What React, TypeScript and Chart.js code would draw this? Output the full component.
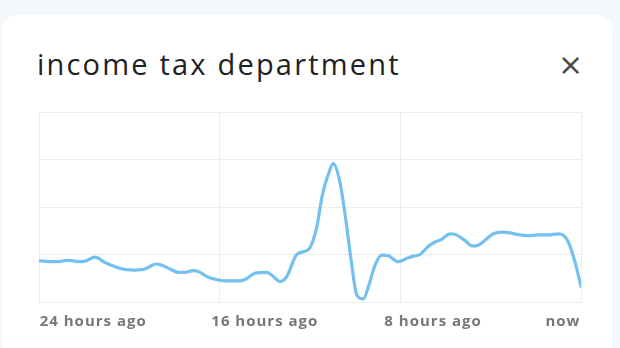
import React, { useEffect, useRef } from "react";
import { Chart, registerables } from "chart.js";

Chart.register(...registerables);

const title = "income tax department";

// hours since the start of the 24-hour window
const hours = [
  0, 0.56, 0.85, 1.23, 1.45, 1.74, 2.01, 2.48, 2.92, 3.37, 3.88, 4.25, 4.55, 4.84, 5.17, 5.43,
  5.8, 6.17, 6.46, 6.83, 7.05, 7.5, 7.94, 8.24, 8.9, 9.12, 9.56, 10.08, 10.3, 10.67, 10.97,
  11.41, 11.7, 12.0, 12.3, 12.54, 12.81, 13.03, 13.33, 13.59, 13.85, 14.07, 14.36, 14.61,
  14.88, 15.17, 15.47, 15.91, 16.35, 16.65, 16.87, 17.24, 17.54, 17.83, 18.2, 18.42, 18.86,
  19.19, 19.45, 19.75, 20.12, 20.49, 20.86, 21.15, 21.67, 22.11, 22.55, 23.0, 23.22, 23.44,
  23.73, 24,
];

// search interest (0-100)
const interest = [
  21.7, 21.2, 21.2, 21.9, 21.8, 21.2, 21.4, 23.6, 20.8, 18.6, 17.0, 16.8, 17.0, 18.2, 20.0, 19.4,
  17.4, 15.6, 15.6, 16.5, 16.1, 13.0, 11.6, 11.1, 11.1, 11.8, 15.1, 15.6, 14.2, 10.8, 13.4,
  25.0, 26.4, 28.6, 39.4, 55.9, 67.2, 72.8, 62.8, 42.9, 19.4, 3.8, 1.6, 9.0,
  19.4, 24.7, 24.3, 21.2, 23.3, 24.3, 25.0, 29.3, 31.6, 33.0, 35.9, 35.6, 32.4,
  29.5, 29.9, 32.5, 35.9, 36.8, 36.4, 35.6, 34.9, 35.3, 35.3, 35.9, 35.1, 31.6,
  21.2, 8.2,
];

const gridHours = [0, 8, 16, 24];
const tickLabels = ["24 hours ago", "16 hours ago", "8 hours ago", "now"];
const tickLabelHours = [2.4, 10.0, 17.45, 23.2];
const yTicks = [0, 25, 50, 75, 100];

const spacingPlugin = {
  id: "labelSpacing",
  beforeDraw(chart: any) {
    (chart.ctx as any).letterSpacing = "1px";
  },
  afterDraw(chart: any) {
    (chart.ctx as any).letterSpacing = "0px";
  },
};

export default function App() {
  const canvasRef = useRef<HTMLCanvasElement | null>(null);

  useEffect(() => {
    document.body.style.margin = "0";
    const ctx = canvasRef.current;
    if (!ctx) return;
    const chart = new Chart(ctx, {
      type: "line",
      data: {
        datasets: [
          {
            data: hours.map((h, i) => ({ x: h, y: interest[i] })),
            borderColor: "#74c0ef",
            borderWidth: 3.2,
            pointRadius: 0,
            fill: false,
            cubicInterpolationMode: "monotone",
            borderJoinStyle: "round",
            borderCapStyle: "round",
          },
        ],
      },
      plugins: [spacingPlugin],
      options: {
        animation: false,
        responsive: false,
        maintainAspectRatio: false,
        layout: { padding: { left: 39, right: 39, top: 112, bottom: 6 } },
        plugins: { legend: { display: false }, tooltip: { enabled: false } },
        scales: {
          x: {
            type: "linear",
            min: 0,
            max: 24,
            afterBuildTicks: (axis: any) => {
              axis.ticks = gridHours.map((v) => ({ value: v }));
            },
            ticks: { display: false },
            grid: { color: "#ececec", lineWidth: 1, drawTicks: false },
            border: { display: false },
          },
          xl: {
            type: "linear",
            position: "bottom",
            min: 0,
            max: 24,
            afterBuildTicks: (axis: any) => {
              axis.ticks = tickLabelHours.map((v) => ({ value: v }));
            },
            ticks: {
              autoSkip: false,
              maxRotation: 0,
              padding: 11,
              color: "#777777",
              font: { family: "'Open Sans', sans-serif", size: 15, weight: "bold" },
              callback: (_v: any, i: number) => tickLabels[i],
            },
            grid: { display: false, drawTicks: false },
            border: { display: false },
          },
          y: {
            min: 0,
            max: 100,
            afterBuildTicks: (axis: any) => {
              axis.ticks = yTicks.map((v) => ({ value: v }));
            },
            ticks: { display: false },
            grid: { color: "#ececec", lineWidth: 1, drawTicks: false },
            border: { display: false },
          },
        },
      },
    } as any);
    return () => chart.destroy();
  }, []);

  return (
    <div
      style={{
        position: "relative",
        width: 620,
        height: 348,
        background: "#f4f8fc",
        overflow: "hidden",
      }}
    >
      <div
        style={{
          position: "absolute",
          left: 2,
          top: 15,
          width: 610,
          height: 360,
          background: "#ffffff",
          borderRadius: 14,
        }}
      />
      <div
        style={{
          position: "absolute",
          left: 37,
          top: 44,
          fontFamily: "'Open Sans', sans-serif",
          fontSize: 29,
          letterSpacing: "2.2px",
          color: "#202124",
          lineHeight: "40px",
          whiteSpace: "nowrap",
        }}
      >
        {title}
      </div>
      <div
        style={{
          position: "absolute",
          left: 558,
          top: 49,
          width: 24,
          height: 32,
          fontFamily: "'DejaVu Sans', sans-serif",
          fontSize: 30,
          lineHeight: "32px",
          color: "#4a4a4a",
          textAlign: "center",
        }}
      >
        ×
      </div>
      <canvas
        ref={canvasRef}
        width={620}
        height={348}
        style={{ position: "absolute", left: 0, top: 0, width: 620, height: 348 }}
      />
    </div>
  );
}
